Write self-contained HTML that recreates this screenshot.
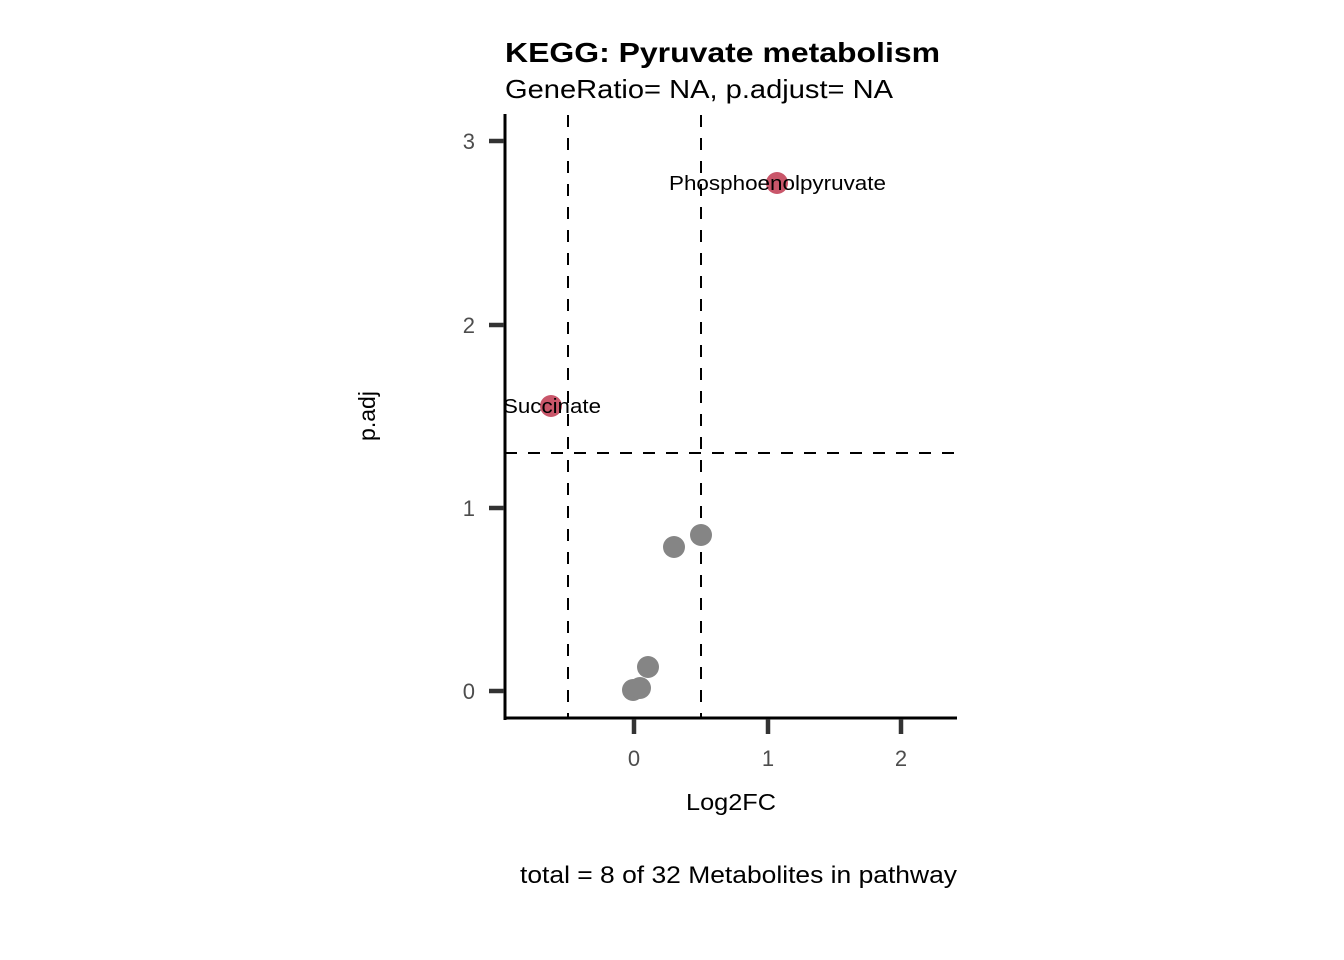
<!DOCTYPE html>
<html><head><meta charset="utf-8"><style>body{margin:0;background:#fff}svg{display:block}</style></head>
<body>
<svg width="1344" height="960" xmlns="http://www.w3.org/2000/svg" font-family="Liberation Sans, sans-serif">
<rect width="1344" height="960" fill="#fff"/>
<text x="505" y="62" font-size="28" font-weight="bold" textLength="435" lengthAdjust="spacingAndGlyphs">KEGG: Pyruvate metabolism</text>
<text x="505" y="98" font-size="26" textLength="388" lengthAdjust="spacingAndGlyphs">GeneRatio= NA, p.adjust= NA</text>
<g stroke="#000" stroke-width="2" stroke-dasharray="12 11" fill="none">
<line x1="568" y1="115" x2="568" y2="718"/>
<line x1="701" y1="115" x2="701" y2="718"/>
<line x1="505" y1="453" x2="957" y2="453"/>
</g>
<g fill="#858585">
<circle cx="674" cy="547" r="11"/>
<circle cx="701" cy="535" r="11"/>
<circle cx="648" cy="667" r="11"/>
<circle cx="633" cy="690" r="11"/>
<circle cx="640" cy="688" r="11"/>
</g>
<g fill="#C9566A">
<circle cx="551" cy="406" r="11"/>
<circle cx="777" cy="183" r="11"/>
</g>
<text x="669" y="190" font-size="20" textLength="217" lengthAdjust="spacingAndGlyphs">Phosphoenolpyruvate</text>
<text x="503" y="413" font-size="20" textLength="98" lengthAdjust="spacingAndGlyphs">Succinate</text>
<line x1="505" y1="114" x2="505" y2="720" stroke="#000" stroke-width="3"/>
<line x1="504" y1="718" x2="957" y2="718" stroke="#000" stroke-width="3"/>
<g stroke="#333" stroke-width="4.5">
<line x1="489" y1="141" x2="504" y2="141"/>
<line x1="489" y1="325" x2="504" y2="325"/>
<line x1="489" y1="508" x2="504" y2="508"/>
<line x1="489" y1="691" x2="504" y2="691"/>
<line x1="634" y1="719" x2="634" y2="734"/>
<line x1="768" y1="719" x2="768" y2="734"/>
<line x1="901" y1="719" x2="901" y2="734"/>
</g>
<g fill="#4d4d4d" font-size="22">
<text x="475" y="149" text-anchor="end">3</text>
<text x="475" y="333" text-anchor="end">2</text>
<text x="475" y="516" text-anchor="end">1</text>
<text x="475" y="699" text-anchor="end">0</text>
<text x="634" y="766" text-anchor="middle">0</text>
<text x="768" y="766" text-anchor="middle">1</text>
<text x="901" y="766" text-anchor="middle">2</text>
</g>
<text x="686" y="810" font-size="23" textLength="90" lengthAdjust="spacingAndGlyphs">Log2FC</text>
<text transform="translate(375,416) rotate(-90)" font-size="23" text-anchor="middle">p.adj</text>
<text x="520" y="883" font-size="24" textLength="437" lengthAdjust="spacingAndGlyphs">total = 8 of 32 Metabolites in pathway</text>
</svg>
</body></html>
